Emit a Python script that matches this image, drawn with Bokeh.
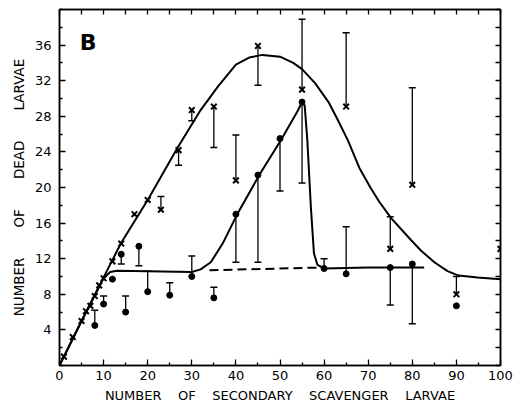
import math
from bokeh.plotting import figure
from bokeh.models import Range1d, FixedTicker, LinearAxis, Label
from bokeh.embed import file_html
from bokeh.resources import INLINE

# ---- data ----
cross_x = [1, 3, 5, 6, 7, 8, 9, 10, 12, 14, 17, 20, 23, 27, 30, 35, 40, 45, 55, 65, 75, 80, 90, 100]
cross_y = [1.0, 3.2, 5.0, 6.1, 6.7, 7.8, 9.0, 9.8, 11.7, 13.7, 17.0, 18.6, 17.5, 24.2, 28.7, 29.1,
           20.8, 35.9, 31.0, 29.1, 13.1, 20.3, 8.0, 13.1]
cross_cap = [None, None, None, None, None, None, None, None, None, None, None, None, 19.0, 22.5,
             27.5, 24.5, 25.9, 31.5, 38.9, 37.4, 16.7, 31.2, 10.0, None]

dot_x = [8, 10, 12, 14, 15, 18, 20, 25, 30, 35, 40, 45, 50, 55, 60, 65, 75, 80, 90]
dot_y = [4.5, 6.9, 9.7, 12.5, 6.0, 13.4, 8.3, 7.9, 10.0, 7.6, 17.0, 21.4, 25.5, 29.6, 10.9, 10.3,
         11.0, 11.4, 6.7]
dot_cap = [6.2, 7.8, None, 11.4, 7.8, 11.2, 10.6, 9.3, 12.3, 8.8, 11.6, 11.6, 19.6, 20.5, 12.0,
           15.6, 6.8, 4.7, None]

upper_x = [0, 5, 10, 14, 20, 26.7, 32, 36, 40, 43, 46, 50, 53, 55, 58, 61, 63, 65.4, 68, 70.5,
           72.5, 75.3, 79.7, 82, 85, 88, 90.5, 94.8, 100]
upper_y = [0, 5, 9.9, 13.8, 18.6, 24.4, 28.7, 31.4, 33.8, 34.6, 34.9, 34.7, 34.0, 33.3, 31.7,
           29.6, 27.7, 25.3, 22.2, 20.0, 18.4, 16.5, 14.1, 12.9, 11.6, 10.6, 10.1, 9.9, 9.7]

lower_x = [0, 5, 10, 11.5, 13, 20, 30, 32, 34.3, 37, 40.2, 45.3, 50.3, 54, 55, 55.6, 56.2, 57,
           57.7, 58.5, 60, 70, 82.7]
lower_y = [0, 5, 9.8, 10.5, 10.65, 10.6, 10.5, 10.8, 11.6, 13.7, 16.9, 21.4, 25.4, 28.6, 29.6,
           29.2, 25.3, 17.8, 12.6, 11.3, 10.9, 11.0, 11.0]

dash_x = [34, 58.5]
dash_y = [10.7, 11.0]

x_ticks = [0, 10, 20, 30, 40, 50, 60, 70, 80, 90, 100]
x_minor = [5, 15, 25, 35, 45, 55, 65, 75, 85, 95]
y_ticks = [4, 8, 12, 16, 20, 24, 28, 32, 36]
y_minor = [0, 2, 6, 10, 14, 18, 22, 26, 30, 34, 38, 40]

FONT = "DejaVu Sans"
SPX = "\u00a0" * 4
SPY = "\u00a0" * 7

p = figure(width=525, height=406, output_backend="svg", toolbar_location=None,
           x_range=Range1d(0, 100), y_range=Range1d(0, 40))
p.min_border_left = 59
p.min_border_right = 25
p.min_border_top = 9
p.min_border_bottom = 41
p.background_fill_color = "white"
p.border_fill_color = "white"
p.outline_line_color = "black"
p.outline_line_width = 1.5
p.grid.visible = False

def style_axis(ax):
    ax.axis_line_color = "black"
    ax.axis_line_width = 1.5
    ax.major_tick_in = 6
    ax.major_tick_out = 0
    ax.minor_tick_in = 3
    ax.minor_tick_out = 0
    ax.major_tick_line_width = 1.3
    ax.minor_tick_line_width = 1.3
    ax.major_label_text_font = FONT
    ax.major_label_text_font_size = "13px"
    ax.major_label_text_color = "black"
    ax.axis_label_text_font = FONT
    ax.axis_label_text_font_size = "13.5px"
    ax.axis_label_text_font_style = "normal"
    ax.axis_label_text_color = "black"

xa = p.xaxis[0]
xa.ticker = FixedTicker(ticks=x_ticks, minor_ticks=x_minor)
style_axis(xa)
xa.axis_label_text_font_size = "13px"
xa.major_label_standoff = 5
xa.axis_label = SPX.join(["NUMBER", "OF", "SECONDARY", "SCAVENGER", "LARVAE"])
xa.axis_label_standoff = 5

ya = p.yaxis[0]
ya.ticker = FixedTicker(ticks=y_ticks, minor_ticks=y_minor)
style_axis(ya)
ya.major_label_standoff = 8
ya.axis_label = SPY.join(["NUMBER", "OF", "DEAD", "LARVAE"])
ya.axis_label_standoff = 5

# mirrored tick marks on top and right (minor ticks only -> no label texts)
top = LinearAxis(ticker=FixedTicker(ticks=[], minor_ticks=list(range(0, 101, 5))))
style_axis(top)
top.minor_tick_in = 5
top.major_label_standoff = 0
p.add_layout(top, "above")
right = LinearAxis(ticker=FixedTicker(ticks=[], minor_ticks=list(range(0, 41, 2))))
style_axis(right)
right.minor_tick_in = 5
right.major_label_standoff = 0
p.add_layout(right, "right")

# curves
p.line(upper_x, upper_y, line_color="black", line_width=2)
p.line(lower_x, lower_y, line_color="black", line_width=2)
p.line(dash_x, dash_y, line_color="black", line_width=2, line_dash="9 5")

# error bars
def bars(xs, ys, caps):
    bx = [x for x, c in zip(xs, caps) if c is not None]
    by = [y for y, c in zip(ys, caps) if c is not None]
    bc = [c for c in caps if c is not None]
    p.segment(bx, by, bx, bc, line_color="black", line_width=1.3)
    p.scatter(bx, bc, marker="dash", size=7, line_color="black", line_width=1.5)

bars(cross_x, cross_y, cross_cap)
bars(dot_x, dot_y, dot_cap)

p.scatter(cross_x, cross_y, marker="x", size=8, line_color="black", line_width=2)
p.scatter(dot_x, dot_y, marker="circle", size=6, fill_color="black", line_color="black")

p.add_layout(Label(x=6.5, y=36.3, text="B", text_font=FONT, text_font_size="22px",
                   text_font_style="bold", text_align="center", text_baseline="middle",
                   text_color="black"))

open("out.html", "w").write(file_html(p, INLINE))
